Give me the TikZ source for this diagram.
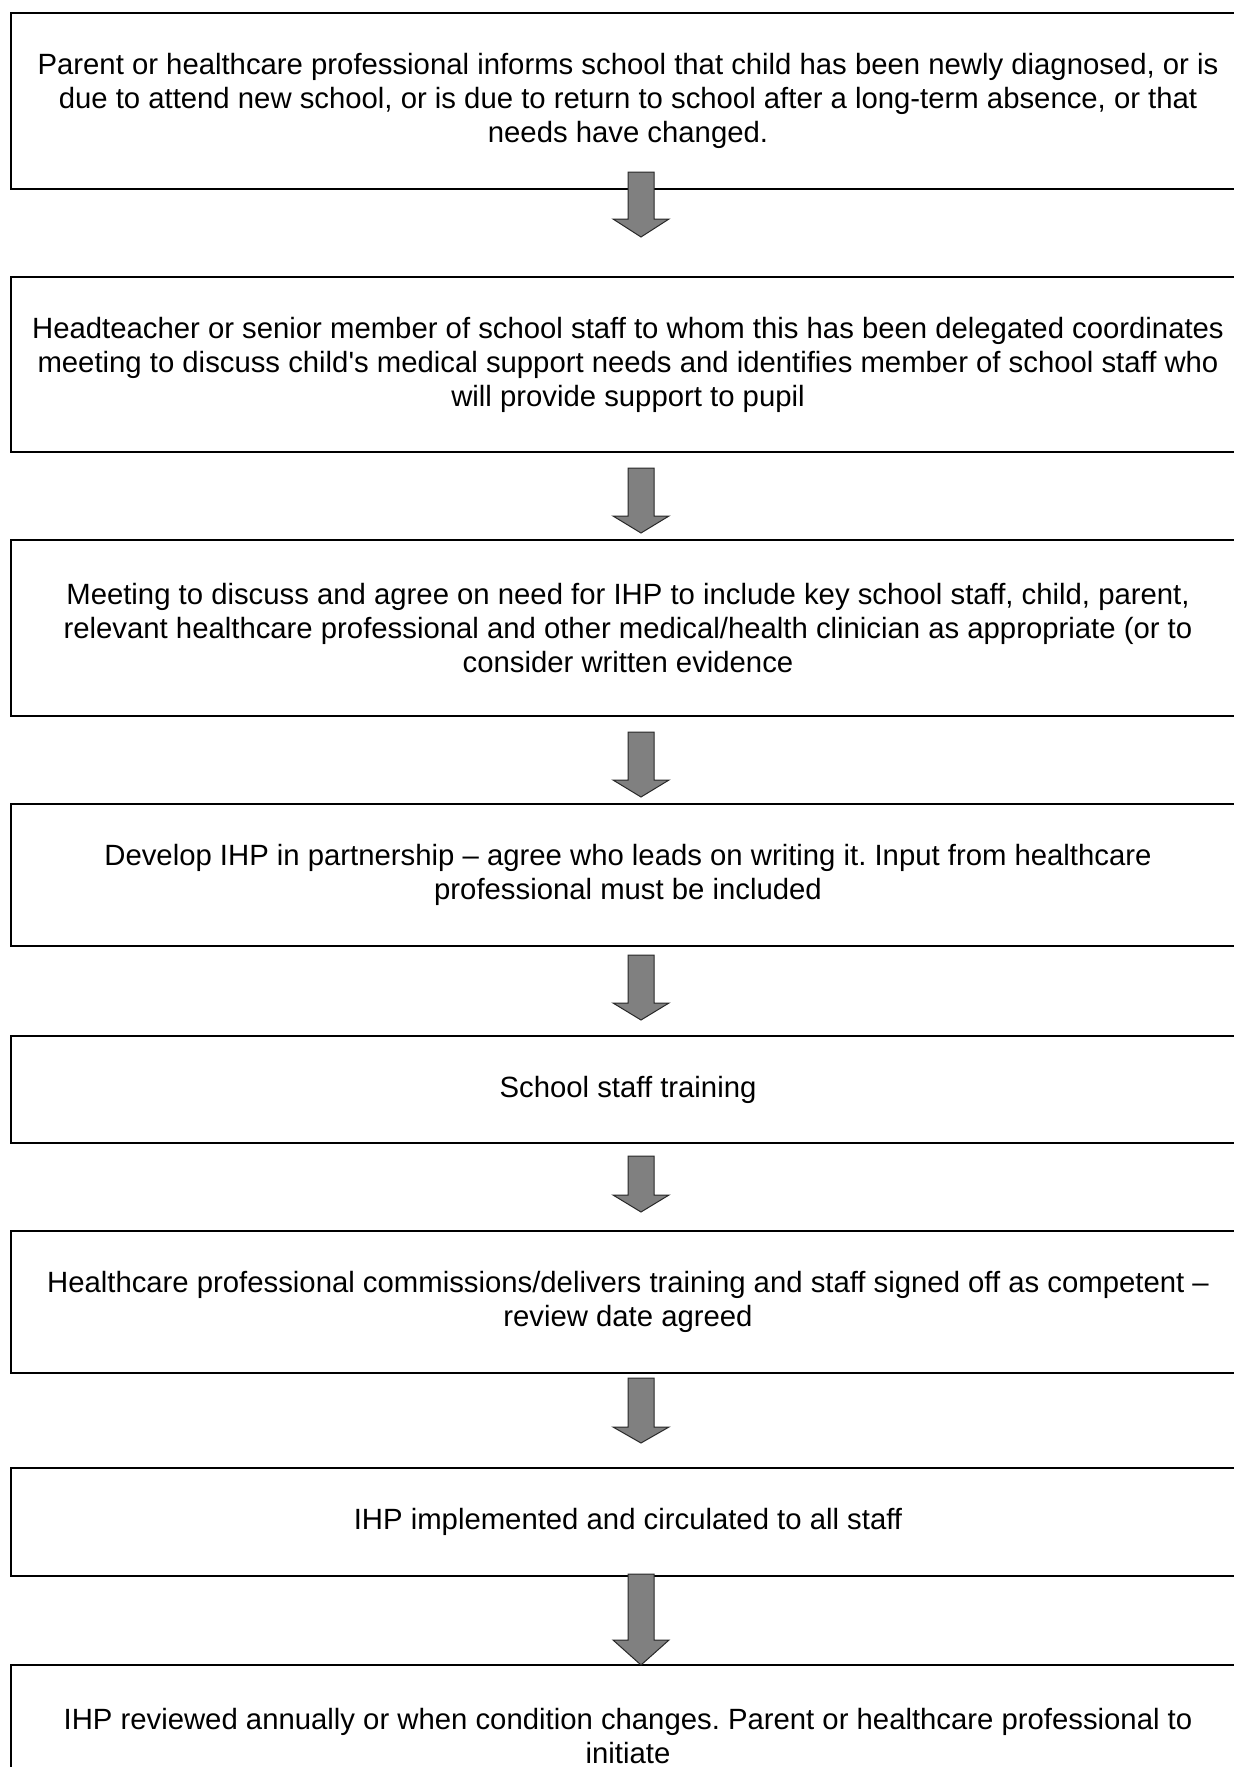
\documentclass[tikz,border=0pt]{standalone}
\usepackage{fontspec}
\newfontfamily\arialf{Liberation Sans}
\usetikzlibrary{calc}
\frenchspacing
\definecolor{arrfill}{RGB}{128,128,128}
\definecolor{arrline}{RGB}{40,40,40}
\tikzset{
  stepbox/.style={draw=black, line width=1pt, rectangle, outer sep=0pt, inner sep=0pt,
    minimum width=617pt, align=center,
    font=\arialf\frenchspacing\fontsize{14.65}{17}\selectfont},
  blk/.style={fill=arrfill, draw=arrline, line width=0.5pt, line join=miter}
}
\newcommand\blkarrow[5]{%
  \coordinate (s) at ($(#1.south)+(13,#3)$);
  \coordinate (t) at ($(#2.north)+(13,-#4)$);
  \coordinate (h) at ($(t)+(0,-#5)$);
  \draw[blk] ($(s)+(-13,0)$) -- ($(s)+(13,0)$) -- ($(h)+(13,0)$) -- ($(h)+(28,0)$)
    -- (t) -- ($(h)+(-28,0)$) -- ($(h)+(-13,0)$) -- cycle;
}
\begin{document}
\begin{tikzpicture}[x=0.5pt,y=-0.5pt]
\useasboundingbox (0,0) rectangle (1234,1767);
\fill[white] (0,0) rectangle (1234,1767);
\clip (0,0) rectangle (1234,1767);
\node[stepbox, minimum height=88pt] (b1) at (628,101) {Parent or healthcare professional informs school that child has been newly diagnosed, or is\\due to attend new school, or is due to return to school after a long-term absence, or that\\needs have changed.};
\node[stepbox, minimum height=87.5pt] (b2) at (628,364.5) {Headteacher or senior member of school staff to whom this has been delegated coordinates\\meeting to discuss child's medical support needs and identifies member of school staff who\\will provide support to pupil};
\node[stepbox, minimum height=88pt] (b3) at (628,628) {Meeting to discuss and agree on need for IHP to include key school staff, child, parent,\\relevant healthcare professional and other medical/health clinician as appropriate (or to\\consider written evidence};
\node[stepbox, minimum height=71pt] (b4) at (628,875) {Develop IHP in partnership – agree who leads on writing it. Input from healthcare\\professional must be included};
\node[stepbox, minimum height=53.5pt] (b5) at (628,1089.5) {School staff training};
\node[stepbox, minimum height=71pt] (b6) at (628,1302) {Healthcare professional commissions/delivers training and staff signed off as competent –\\review date agreed};
\node[stepbox, minimum height=54pt] (b7) at (628,1522) {IHP implemented and circulated to all staff};
\node[stepbox, minimum height=71pt] (b8) at (628,1736) {IHP reviewed annually or when condition changes. Parent or healthcare professional to\\initiate};
\blkarrow{b1}{b2}{-17}{40}{18}
\blkarrow{b2}{b3}{16}{7}{17}
\blkarrow{b3}{b4}{16}{7}{17}
\blkarrow{b4}{b5}{9}{16}{17}
\blkarrow{b5}{b6}{13}{19}{17}
\blkarrow{b6}{b7}{5}{25}{16}
\blkarrow{b7}{b8}{-2}{0}{25}
\end{tikzpicture}
\end{document}
